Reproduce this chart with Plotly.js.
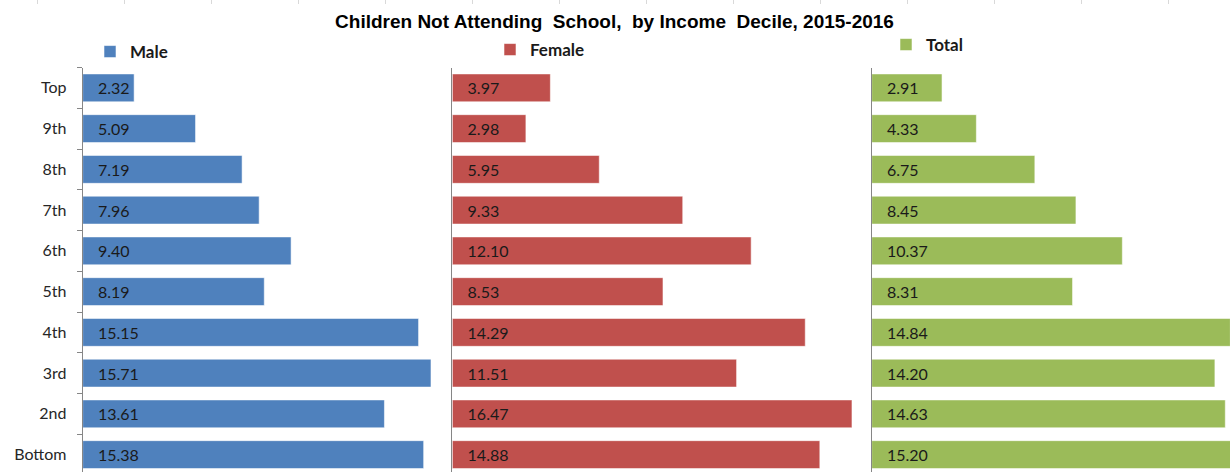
<!DOCTYPE html>
<html>
<head>
<meta charset="utf-8">
<script src="https://cdn.plot.ly/plotly-3.0.1.min.js"></script>
<style>html,body{margin:0;padding:0;background:#fff;}#chart{width:1230px;height:472px;}</style>
</head>
<body>
<div id="chart"></div>
<script>
// ---- data ----
var categories = ['Top','9th','8th','7th','6th','5th','4th','3rd','2nd','Bottom'];
var maleValues   = [2.32, 5.09, 7.19, 7.96, 9.40, 8.19, 15.15, 15.71, 13.61, 15.38];
var femaleValues = [3.97, 2.98, 5.95, 9.33, 12.10, 8.53, 14.29, 11.51, 16.47, 14.88];
var totalValues  = [2.91, 4.33, 6.75, 8.45, 10.37, 8.31, 14.84, 14.20, 14.63, 15.20];
var seriesNames  = ['Male', 'Female', 'Total'];
var titleText = 'Children Not Attending  School,  by Income  Decile, 2015-2016';

// ---- styling ----
var W = 1230, H = 472;
var colors = ['#4F81BD', '#C0504D', '#9BBB59'];
var labelFont = {family: 'Lato, "Noto Sans", sans-serif', size: 16, color: '#1a1a1a'};
var pad = '\u00a0\u00a0\u00a0';
function labels(arr){ return arr.map(function(v){ return pad + v.toFixed(2); }); }

var yTop = 67.5;
var yDomain = [0, (H - yTop) / H];
var catStep = 40.75;
var yRange = [(H - yTop) / catStep - 0.5, -0.5];

function px(x){ return x / W; }

var allValues = [maleValues, femaleValues, totalValues];
var axesX = ['x', 'x2', 'x3'];
var axesY = ['y', 'y2', 'y3'];
var legends = ['legend', 'legend2', 'legend3'];

var data = allValues.map(function(vals, i){
  return {
    type: 'bar',
    orientation: 'h',
    name: seriesNames[i],
    x: vals,
    y: categories,
    xaxis: axesX[i],
    yaxis: axesY[i],
    legend: legends[i],
    marker: {color: colors[i], line: {color: 'rgba(255,255,255,0.55)', width: 1}},
    text: labels(vals),
    textposition: 'inside',
    insidetextanchor: 'start',
    textangle: 0,
    constraintext: 'none',
    insidetextfont: labelFont,
    hoverinfo: 'x+y+name'
  };
});
// empty helper trace for the faint top tick strip
data.push({type: 'scatter', x: [], y: [], xaxis: 'x4', yaxis: 'y4', showlegend: false, hoverinfo: 'skip'});

function yAxis(showLabels, anchor){
  return {
    domain: yDomain,
    anchor: anchor,
    type: 'category',
    categoryorder: 'array',
    categoryarray: categories,
    range: yRange,
    showline: true,
    linecolor: '#868686',
    linewidth: 1,
    ticks: showLabels ? 'outside' : '',
    ticklen: 5,
    tickcolor: '#868686',
    tickson: 'boundaries',
    showticklabels: showLabels,
    ticklabelstandoff: 12,
    tickfont: {family: 'Lato, "Noto Sans", sans-serif', size: 16, color: '#262626'},
    showgrid: false,
    zeroline: false,
    fixedrange: true
  };
}
function xAxis(d, r, anchor){
  return {domain: d, range: r, anchor: anchor, visible: false, showgrid: false, zeroline: false, fixedrange: true};
}
function legendAt(xLeft, yCenter){
  return {
    x: px(xLeft), xanchor: 'left', y: 1 - yCenter / H, yanchor: 'middle',
    bgcolor: 'rgba(0,0,0,0)', borderwidth: 0,
    font: {family: 'Lato, "Noto Sans", sans-serif', size: 17, color: '#1a1a1a', weight: 'bold'}
  };
}

var layout = {
  width: W, height: H,
  margin: {l: 0, r: 0, t: 0, b: 0, autoexpand: false},
  paper_bgcolor: '#ffffff',
  plot_bgcolor: 'rgba(0,0,0,0)',
  bargap: 0.315,
  title: {
    text: titleText,
    x: 0.4996, xanchor: 'center',
    y: 1 - 21 / H, yanchor: 'middle', yref: 'container',
    font: {family: '"Liberation Sans", Arial, sans-serif', size: 19, color: '#000000', weight: 'bold'}
  },
  xaxis:  xAxis([px(82.7), px(445)],   [0, (445 - 82.7) / 22.17],   'y'),
  xaxis2: xAxis([px(452.3), px(851.7)], [0, (851.7 - 452.3) / 24.7], 'y2'),
  xaxis3: xAxis([px(871.7), 1],        [0, (1230 - 871.7) / 24.17], 'y3'),
  yaxis:  yAxis(true, 'x'),
  yaxis2: yAxis(false, 'x2'),
  yaxis3: yAxis(false, 'x3'),
  xaxis4: {
    domain: [0, 1], range: [0, W], anchor: 'y4', side: 'top',
    tick0: 37, dtick: 87, ticks: 'inside', ticklen: 4, tickcolor: '#d9d9d9', tickwidth: 1,
    showticklabels: false, showline: false, showgrid: false, zeroline: false, fixedrange: true
  },
  yaxis4: {domain: [0, 1], range: [0, 1], anchor: 'x4', visible: false, fixedrange: true},
  legend:  legendAt(90, 52),
  legend2: legendAt(490, 50),
  legend3: legendAt(886, 45),
  showlegend: true
};

Plotly.newPlot('chart', data, layout, {displayModeBar: false, staticPlot: true});
</script>
</body>
</html>
